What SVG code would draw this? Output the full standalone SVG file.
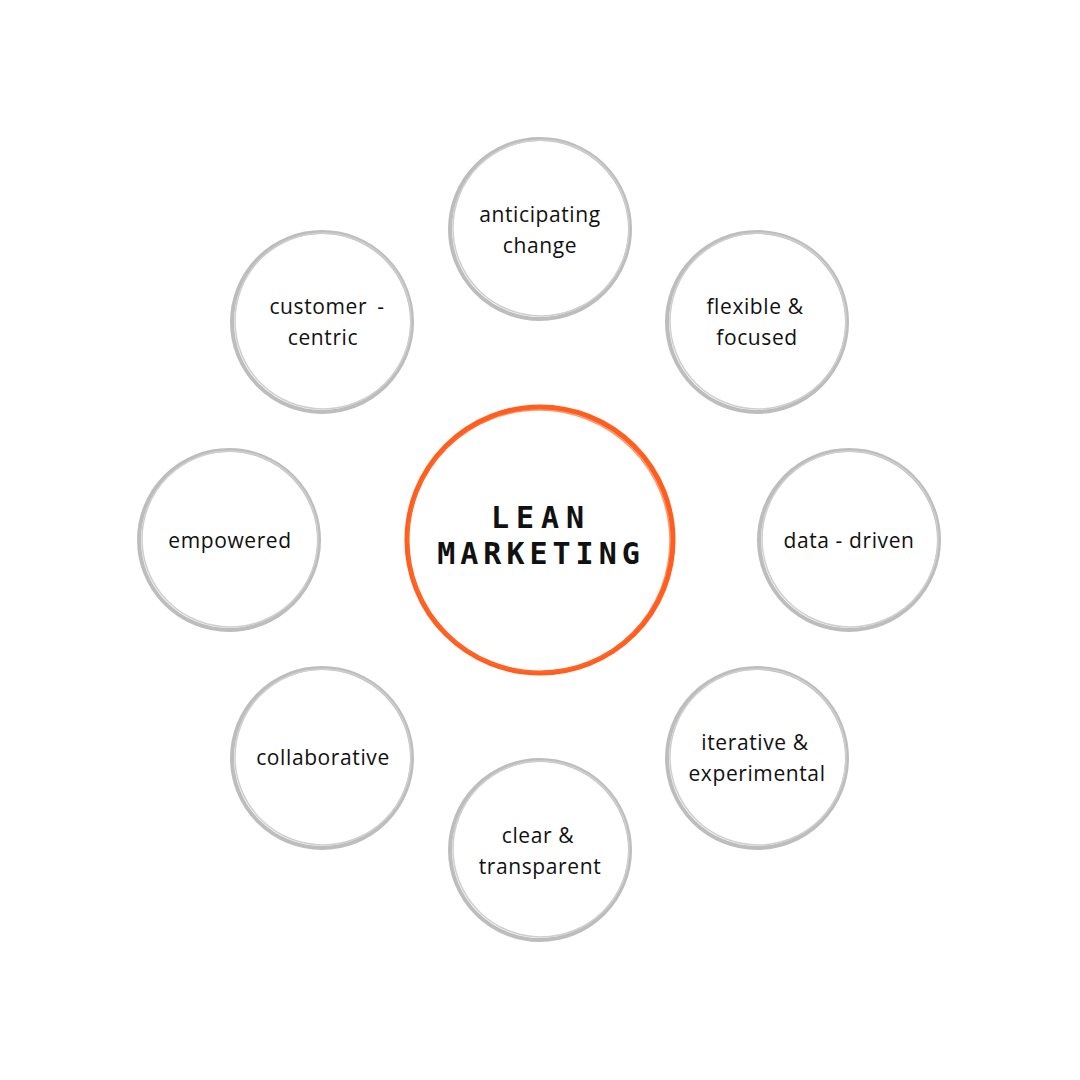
<svg xmlns="http://www.w3.org/2000/svg" width="1080" height="1080" viewBox="0 0 1080 1080">
<style>
.ring{fill:#ffffff;stroke:#bdbdbd;stroke-width:4}
.ring2{fill:none;stroke:#cfcfcf;stroke-width:1.5}
.lbl{font-family:"Open Sans","Noto Sans",sans-serif;font-size:21px;fill:#111111;text-anchor:middle;letter-spacing:0.6px}
.core{fill:#ffffff;stroke:#ff5e1f;stroke-width:5}
.title{font-family:"DejaVu Sans Mono","Liberation Mono",monospace;font-weight:bold;font-size:30px;fill:#111111;text-anchor:middle;letter-spacing:5px}
</style>
<rect width="1080" height="1080" fill="#ffffff"/>
<g id="connectors"/>
<g id="center">
<circle class="core" cx="540" cy="540" r="133"/>
<circle cx="539" cy="541" r="131" fill="none" stroke="#ff6a2e" stroke-width="1.5" opacity="0.7"/>
<text class="title" x="541" y="528" style="letter-spacing:7px">LEAN</text>
<text class="title" x="541" y="564">MARKETING</text>
</g>
<g id="anticipating">
<circle class="ring" cx="540" cy="229" r="90"/>
<circle class="ring2" cx="541" cy="228" r="88"/>
<text class="lbl" x="540" y="222">anticipating</text>
<text class="lbl" x="540" y="253">change</text>
</g>
<g id="flexible">
<circle class="ring" cx="757" cy="322" r="90"/>
<circle class="ring2" cx="758" cy="321" r="88"/>
<text class="lbl" x="755" y="314">flexible &amp;</text>
<text class="lbl" x="757" y="345">focused</text>
</g>
<g id="data-driven">
<circle class="ring" cx="849" cy="540" r="90"/>
<circle class="ring2" cx="850" cy="539" r="88"/>
<text class="lbl" x="849" y="548">data - driven</text>
</g>
<g id="iterative">
<circle class="ring" cx="757" cy="758" r="90"/>
<circle class="ring2" cx="758" cy="757" r="88"/>
<text class="lbl" x="755" y="750">iterative &amp;</text>
<text class="lbl" x="757" y="781">experimental</text>
</g>
<g id="clear">
<circle class="ring" cx="540" cy="850" r="90"/>
<circle class="ring2" cx="541" cy="849" r="88"/>
<text class="lbl" x="538" y="843">clear &amp;</text>
<text class="lbl" x="540" y="874">transparent</text>
</g>
<g id="collaborative">
<circle class="ring" cx="322" cy="758" r="90"/>
<circle class="ring2" cx="323" cy="757" r="88"/>
<text class="lbl" x="323" y="765">collaborative</text>
</g>
<g id="empowered">
<circle class="ring" cx="229" cy="540" r="90"/>
<circle class="ring2" cx="230" cy="539" r="88"/>
<text class="lbl" x="230" y="548">empowered</text>
</g>
<g id="customer-centric">
<circle class="ring" cx="322" cy="322" r="90"/>
<circle class="ring2" cx="323" cy="321" r="88"/>
<text class="lbl" x="327" y="314" style="word-spacing:4px">customer -</text>
<text class="lbl" x="323" y="345">centric</text>
</g>
</svg>
